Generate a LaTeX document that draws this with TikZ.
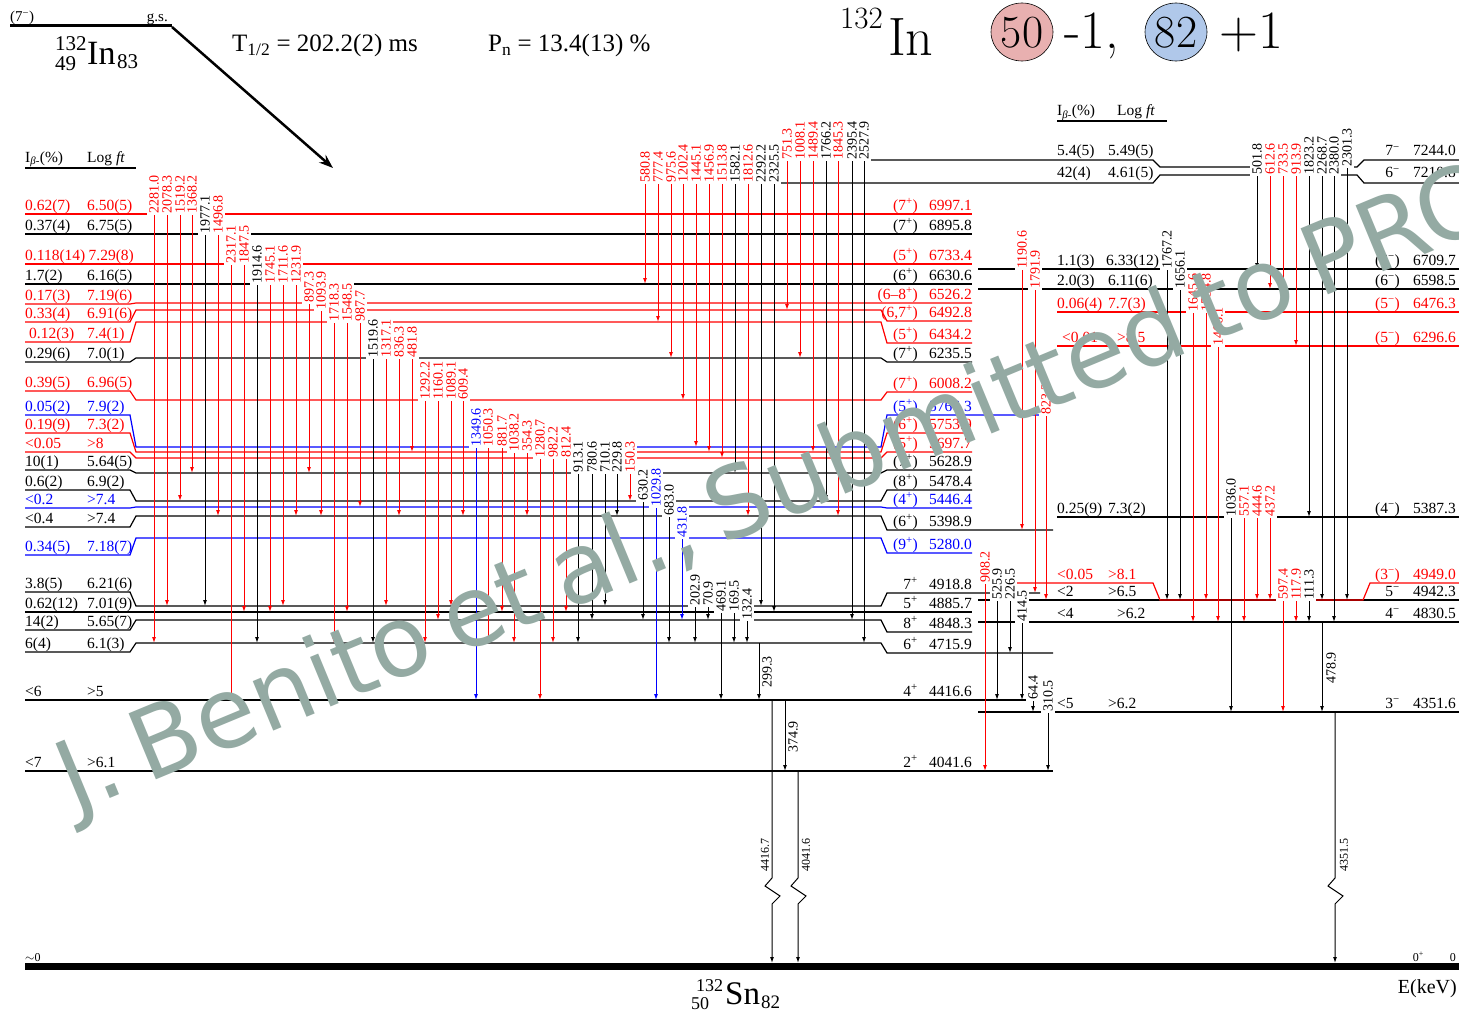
\documentclass[tikz,border=0pt]{standalone}
\usepackage{fontspec}
\usepackage{amsmath}
\newfontfamily\tms{Liberation Serif}
\newfontfamily\dvs{DejaVu Sans}
\usetikzlibrary{arrows.meta}
\pgfdeclarelayer{front}
\pgfdeclarelayer{top}
\pgfsetlayers{main,front,top}
\definecolor{wmc}{RGB}{148,170,163}
\definecolor{pkc}{RGB}{232,176,176}
\definecolor{blc}{RGB}{176,200,234}
\newcommand\fs[1]{\fontsize{#1}{#1}\selectfont}
\newcommand\Up{\textsuperscript{+}}
\newcommand\Dn{\textsuperscript{−}}
\tikzset{
 lev/.style={line width=1.2pt},
 gam/.style={line width=1pt,-{Latex[length=6pt,width=4pt]}},
 ltxt/.style={font=\tms\fs{15.5},anchor=base west,inner sep=0pt},
 rtxt/.style={font=\tms\fs{15.5},anchor=base east,inner sep=0pt},
 glab/.style={font=\tms\fs{14},rotate=90,anchor=west,fill=white,inner xsep=1pt,inner ysep=2pt},
 slab/.style={font=\tms\fs{14},rotate=90,inner sep=0pt},
 zlab/.style={font=\tms\fs{12},rotate=90,inner sep=0pt},
}
% left-scheme level: colour, yLeft, yMain, yRight, xEnd, Ib, logft, spin, energy
\newcommand\Lv[9]{%
 \draw[lev,color=#1] (25,#2) -- (130,#2) -- (136,#3) -- (881,#3) -- (887,#4) -- (#5,#4);
 \begin{pgfonlayer}{front}
 \node[ltxt,text=#1] at (25,#2-4) {#6};
 \node[ltxt,text=#1] at (87,#2-4) {#7};
 \node[rtxt,text=#1] at (918,#4-4) {#8};
 \node[rtxt,text=#1] at (972,#4-4) {#9};
 \end{pgfonlayer}}
% right-scheme texts: colour, y, Ib, logft, xlogft, spin, energy
\newcommand\Rt[7]{%
 \begin{pgfonlayer}{front}
 \node[ltxt,text=#1] at (1057,#2-4) {#3};
 \node[ltxt,text=#1] at (#5,#2-4) {#4};
 \node[rtxt,text=#1] at (1400,#2-4) {#6};
 \node[rtxt,text=#1] at (1456,#2-4) {#7};
 \end{pgfonlayer}}
\newcommand\G[5]{%
 \draw[gam,color=#1] (#2,#3) -- (#2,#4);
 \node[glab,text=#1] at (#2,#3+1) {#5};}
\begin{document}
\begin{tikzpicture}[x=1pt,y=-1pt]
\fill[white] (0,0) rectangle (1459,1014);
\useasboundingbox (0,0) rectangle (1459,1014);

% ---------- header ----------
\draw[line width=3pt] (10,26) -- (172,26);
\node[ltxt,font=\tms\fs{15}] at (10,22) {(7\Dn)};
\node[rtxt,font=\tms\fs{15}] at (168,22) {g.s.};
\draw[line width=2.5pt,-{Stealth[length=14pt,width=10pt]}] (172,27) -- (333,168);
\node[ltxt,font=\tms\fs{21}] at (55,51) {132};
\node[ltxt,font=\tms\fs{21}] at (55,71) {49};
\node[ltxt,font=\tms\fs{34}] at (87,65) {In};
\node[ltxt,font=\tms\fs{21}] at (117,69) {83};
\node[ltxt,font=\tms\fs{25}] at (232,52) {T$_{\text{1/2}}$ = 202.2(2) ms};
\node[ltxt,font=\tms\fs{25}] at (488,52) {P$_{\text{n}}$ = 13.4(13) \%};

\node[ltxt,font=\fs{31}] at (840,29) {132};
\node[ltxt,font=\fs{54}] at (888,56) {In};
\draw[fill=pkc,line width=0.6pt] (1022,32) ellipse [x radius=31,y radius=29];
\node[font=\fs{46}] at (1022,33) {50};
\node[ltxt,font=\fs{54}] at (1064,49) {-1,};
\draw[fill=blc,line width=0.6pt] (1176,32) ellipse [x radius=31,y radius=29];
\node[font=\fs{46}] at (1176,33) {82};
\node[ltxt,font=\fs{54}] at (1219,49) {+1};

% ---------- column headers ----------
\node[ltxt] at (25,162) {I\textsubscript{\textit{β}-}(\%)};
\node[ltxt] at (87,162) {Log \textit{ft}};
\draw[line width=2.5pt] (25,168) -- (136,168);
\node[ltxt] at (1057,116) {I\textsubscript{\textit{β}-}(\%)};
\node[ltxt] at (1117,116) {Log \textit{ft}};
\draw[line width=2.5pt] (1057,121) -- (1167,121);

% ---------- left-scheme levels ----------
\Lv{red}{214}{214}{214}{972}{0.62(7)}{6.50(5)}{(7\Up)}{6997.1}
\Lv{black}{234}{234}{234}{972}{0.37(4)}{6.75(5)}{(7\Up)}{6895.8}
\Lv{red}{264}{264}{264}{972}{0.118(14)}{\hspace*{1.5pt}7.29(8)}{(5\Up)}{6733.4}
\Lv{black}{284}{284}{284}{972}{1.7(2)}{6.16(5)}{(6\Up)}{6630.6}
\Lv{red}{304}{303}{303}{972}{0.17(3)}{7.19(6)}{(6–8\Up)}{6526.2}
\Lv{red}{322}{310}{321}{972}{0.33(4)}{6.91(6)}{(6,7\Up)}{6492.8}
\Lv{red}{342}{322}{343}{972}{\hspace*{4pt}0.12(3)}{7.4(1)}{(5\Up)}{6434.2}
\Lv{black}{362}{358}{362}{972}{0.29(6)}{7.0(1)}{(7\Up)}{6235.5}
\Lv{red}{391}{400}{392}{972}{0.39(5)}{6.96(5)}{(7\Up)}{6008.2}
\Lv{blue}{415}{447}{415}{1048}{0.05(2)}{7.9(2)}{(5\Up)}{5766.3}
\Lv{red}{433}{452}{433}{972}{0.19(9)}{7.3(2)}{(6\Up)}{5753.9}
\Lv{red}{452}{458}{452}{972}{<0.05}{>8}{(5\Up)}{5697.7}
\Lv{black}{470}{473}{470}{972}{10(1)}{5.64(5)}{(7\Up)}{5628.9}
\Lv{black}{490}{501}{490}{972}{0.6(2)}{6.9(2)}{(8\Up)}{5478.4}
\Lv{blue}{508}{507}{508}{972}{<0.2}{>7.4}{(4\Up)}{5446.4}
\Lv{black}{527}{516}{530}{1053}{<0.4}{>7.4}{(6\Up)}{5398.9}
\Lv{blue}{555}{538}{553}{972}{0.34(5)}{7.18(7)}{(9\Up)}{5280.0}
\Lv{black}{592}{606}{593}{1040}{3.8(5)}{6.21(6)}{7\Up}{4918.8}
\Lv{black}{612}{612}{612}{972}{0.62(12)}{7.01(9)}{5\Up}{4885.7}
\Lv{black}{630}{620}{632}{972}{14(2)}{5.65(7)}{8\Up}{4848.3}
\Lv{black}{652}{643}{653}{1053}{6(4)}{6.1(3)}{6\Up}{4715.9}
\Lv{black}{700}{700}{700}{1035}{<6}{>5}{4\Up}{4416.6}
\Lv{black}{771}{771}{771}{1053}{<7}{>6.1}{2\Up}{4041.6}

% ---------- right-scheme levels ----------
\draw[lev] (871,160) -- (1153,160) -- (1160,167) -- (1357,167) -- (1364,160) -- (1459,160);
\draw[lev] (780,183) -- (1153,183) -- (1160,175) -- (1357,175) -- (1364,183) -- (1459,183);
\Rt{black}{160}{5.4(5)}{5.49(5)}{1108}{7\Dn}{7244.0}
\Rt{black}{182}{42(4)}{4.61(5)}{1108}{6\Dn}{7210.8}
\draw[lev] (978,269) -- (1459,269);
\Rt{black}{269}{1.1(3)}{6.33(12)}{1106}{(6\Dn)}{6709.7}
\draw[lev] (978,289) -- (1459,289);
\Rt{black}{289}{2.0(3)}{6.11(6)}{1108}{(6\Dn)}{6598.5}
\draw[lev,red] (1057,312) -- (1459,312);
\Rt{red}{312}{0.06(4)}{7.7(3)}{1108}{(5\Dn)}{6476.3}
\draw[lev,red] (1057,346) -- (1459,346);
\Rt{red}{346}{\hspace*{5pt}<0.01}{>8.5}{1117}{(5\Dn)}{6296.6}
\draw[lev] (1057,517) -- (1459,517);
\Rt{black}{517}{0.25(9)}{7.3(2)}{1108}{(4\Dn)}{5387.3}
\draw[lev] (978,600) -- (1459,600);
\Rt{black}{600}{<2}{>6.5}{1108}{5\Dn}{4942.3}
\draw[lev,red] (978,583) -- (1153,583) -- (1160,600) -- (1363,600) -- (1370,583) -- (1459,583);
\Rt{red}{583}{<0.05}{>8.1}{1108}{(3\Dn)}{4949.0}
\draw[lev] (978,622) -- (1459,622);
\Rt{black}{622}{<4}{>6.2}{1117}{4\Dn}{4830.5}
\draw[lev] (978,712) -- (1459,712);
\Rt{black}{712}{<5}{>6.2}{1108}{3\Dn}{4351.6}

% ground state
\draw[line width=7pt] (25,966) -- (1459,966);
\node[ltxt,font=\tms\fs{12}] at (25,961) {$\sim$0};
\node[rtxt,font=\tms\fs{12}] at (1424,961) {0\Up};
\node[rtxt,font=\tms\fs{12}] at (1456,961) {0};
\node[rtxt,font=\tms\fs{20}] at (1457,993) {E(keV)};
\node[ltxt,font=\tms\fs{18}] at (696,991) {132};
\node[ltxt,font=\tms\fs{18}] at (691,1009) {50};
\node[ltxt,font=\tms\fs{33}] at (725,1004) {Sn};
\node[ltxt,font=\tms\fs{19}] at (761,1008) {82};

% ---------- gamma transitions ----------
\foreach \c/\x/\a/\b/\l in {
 red/154/214/643/2281.0, red/167/214/606/2078.3, red/180/214/501/1519.2,
 red/192/214/473/1368.2, black/205/234/606/1977.1, red/218/234/516/1496.8,
 red/231/264/700/2317.1, red/244/264/612/1847.5, black/257/284/643/1914.6,
 red/270/284/612/1745.1, red/283/284/606/1711.6, red/296/284/516/1231.9,
 red/309/303/473/897.3, red/321/310/516/1093.9, red/334/322/643/1718.3,
 red/347/322/612/1548.5, red/360/322/507/987.7, black/373/358/643/1519.6,
 red/386/358/606/1317.1, red/399/358/516/836.3, red/412/358/452/481.8,
 red/425/400/643/1292.2, red/438/400/620/1160.1, red/451/400/606/1089.1,
 red/463/400/516/609.4, blue/476/447/700/1349.6, red/488/447/643/1050.3,
 red/502/447/612/881.7, red/514/452/643/1038.2, red/527/452/516/354.3,
 red/540/458/700/1280.7, red/553/458/643/982.2, red/566/458/612/812.4,
 black/578/473/643/913.1, black/592/473/620/780.6, black/605/473/606/710.1,
 black/617/473/516/229.8, red/630/473/501/150.3, black/643/501/620/630.2,
 blue/656/507/700/1029.8, black/669/516/643/683.0, blue/682/538/620/431.8,
 black/695/606/643/202.9, black/708/606/620/70.9, black/721/612/700/469.1,
 black/734/612/643/169.5, black/747/620/643/132.4,
 red/645/183/284/580.8, red/658/183/322/777.4, red/671/183/358/975.6,
 red/683/183/400/1202.4, red/696/183/447/1445.1, red/709/183/452/1456.9,
 red/722/183/458/1513.8, black/735/183/473/1582.1, red/748/183/516/1812.6,
 black/761/183/606/2292.2, black/774/183/612/2325.5,
 red/787/160/310/751.3, red/800/160/358/1008.1, red/813/160/452/1489.4,
 black/826/160/501/1766.2, red/838/160/516/1845.3, black/852/160/620/2395.4,
 black/864/160/643/2527.9,
 red/1022/269/530/1190.6, red/1035/289/593/1791.9, red/1046/415/600/823.3,
 red/985/583/771/908.2, black/997/600/700/525.9, black/1010/600/653/226.5,
 black/1022/622/700/414.5, black/1033/700/712/64.4, black/1048/712/771/310.5,
 black/1257/175/269/501.8, red/1270/175/289/612.6, red/1283/175/312/733.5,
 red/1296/175/346/913.9, black/1309/175/517/1823.2, black/1322/175/600/2268.7,
 black/1334/175/622/2380.0, black/1347/167/600/2301.3,
 black/1167/269/600/1767.2, black/1180/289/600/1656.1, red/1193/312/622/1645.6,
 red/1206/312/600/1534.8, red/1218/346/622/1466.1,
 black/1231/517/712/1036.0, red/1244/517/622/557.1, red/1257/517/600/444.6,
 red/1270/517/600/437.2, red/1283/600/712/597.4, red/1296/600/622/117.9,
 black/1309/600/622/111.3}
 {\G{\c}{\x}{\a}{\b}{\l}}

% transitions with side labels
\draw[gam] (759,643) -- (759,700);
\node[slab] at (767,672) {299.3};
\draw[gam] (785,700) -- (785,771);
\node[slab] at (793,737) {374.9};
\draw[gam] (1322,622) -- (1322,712);
\node[slab] at (1331,668) {478.9};

% ground-state transitions with zigzag
\foreach \x/\a/\d/\l in {772/700/-7/4416.7, 798/771/8/4041.6, 1335/712/9/4351.5}{
 \draw[gam] (\x,\a) -- (\x,878) -- (\x-7,886) -- (\x+8,896) -- (\x,904) -- (\x,963);
 \node[zlab] at (\x+\d,855) {\l};
}

% ---------- watermark ----------
\begin{pgfonlayer}{top}
\node[font=\dvs\fs{98},text=wmc,rotate=22.5,anchor=base west,inner sep=0pt] at (74,814) {\spaceskip=0.2em J. Benito et al., Submitted to PRC};
\end{pgfonlayer}
\end{tikzpicture}
\end{document}
